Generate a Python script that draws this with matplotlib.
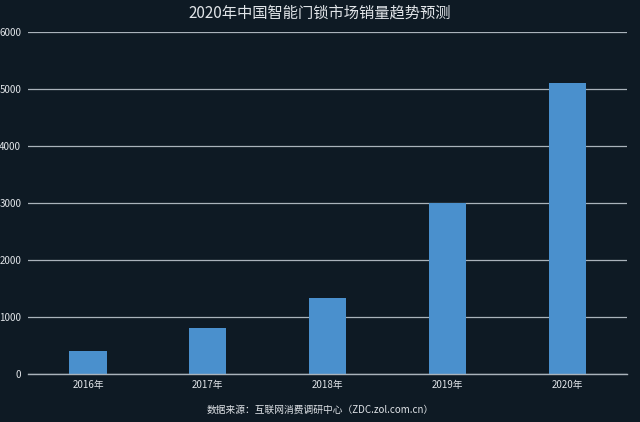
import matplotlib
matplotlib.use("Agg")
import matplotlib.pyplot as plt

plt.rcParams['font.family'] = ['Noto Sans CJK SC', 'DejaVu Sans']

# Data
years = ['2016年', '2017年', '2018年', '2019年', '2020年']
sales = [400, 800, 1330, 3000, 5100]
y_ticks = [0, 1000, 2000, 3000, 4000, 5000, 6000]

BG = '#0e1a24'
BAR = '#4a90cd'
GRID = '#aab3bb'
TEXT = '#e0e4e8'

fig = plt.figure(figsize=(6.4, 4.22), dpi=100, facecolor=BG)
ax = fig.add_axes([0.044, 0.1137, 0.936, 0.8105], facecolor=BG)

ax.set_axisbelow(True)
ax.yaxis.grid(True, color=GRID, linewidth=0.9)
ax.bar(range(len(years)), sales, width=0.31, color=BAR, zorder=2)
ax.axhline(0, color=GRID, linewidth=1.0, clip_on=False, zorder=3)

ax.set_xlim(-0.5, len(years) - 0.5)
ax.set_ylim(0, 6000)
ax.set_yticks(y_ticks)
ax.set_yticklabels([str(t) for t in y_ticks])
ax.set_xticks(range(len(years)))
ax.set_xticklabels(years)

for s in ax.spines.values():
    s.set_visible(False)
ax.tick_params(axis='both', length=0, colors=TEXT, labelsize=7)
ax.tick_params(axis='y', pad=5)
ax.tick_params(axis='x', pad=4)

fig.text(0.5, 0.968, '2020年中国智能门锁市场销量趋势预测', ha='center', va='center',
         color=TEXT, fontsize=11)
fig.text(0.5, 0.028, '数据来源：互联网消费调研中心（ZDC.zol.com.cn）', ha='center', va='center',
         color=TEXT, fontsize=7)

fig.savefig('out.png', dpi=100, facecolor=BG)
